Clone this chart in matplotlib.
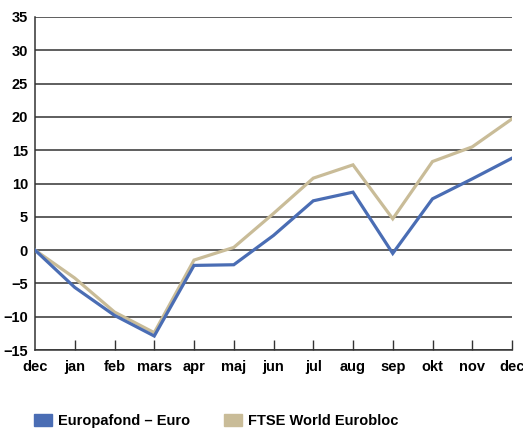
import matplotlib.pyplot as plt
from matplotlib.patches import Patch

months = ['dec', 'jan', 'feb', 'mars', 'apr', 'maj', 'jun', 'jul', 'aug', 'sep', 'okt', 'nov', 'dec']
europafond = [0, -5.6, -9.8, -12.9, -2.3, -2.2, 2.2, 7.4, 8.7, -0.5, 7.7, 10.7, 13.8]
ftse = [0, -4.2, -9.3, -12.4, -1.5, 0.4, 5.5, 10.8, 12.8, 4.7, 13.3, 15.5, 19.7]

blue = '#4a6db4'
beige = '#c9bc98'

plt.rcParams['font.family'] = 'Liberation Sans'
plt.rcParams['font.weight'] = 'bold'

fig = plt.figure(figsize=(5.23, 4.32), dpi=100)
ax = fig.add_axes([35 / 523, 1 - 350 / 432, 477 / 523, 333 / 432])

x = list(range(len(months)))
ax.plot(x, ftse, color=beige, lw=2.3, solid_joinstyle='miter', zorder=3)
ax.plot(x, europafond, color=blue, lw=2.3, solid_joinstyle='miter', zorder=4)

ax.set_xlim(0, len(months) - 1)
ax.set_ylim(-15, 35)
ax.set_yticks(range(-15, 36, 5))
ax.set_xticks(x)
ax.set_xticklabels(months, fontsize=10.5, fontweight='bold')
for lbl in ax.get_yticklabels():
    lbl.set_fontsize(10.5)
    lbl.set_fontweight('bold')

ax.yaxis.grid(True, color='#333333', lw=1.1)
ax.set_axisbelow(True)
ax.tick_params(axis='y', length=0, pad=5)
ax.tick_params(axis='x', direction='in', length=7, width=1, color='#333333', pad=7)
ax.xaxis.get_major_ticks()[0].tick1line.set_visible(False)

for s in ['top', 'right']:
    ax.spines[s].set_visible(False)
ax.spines['left'].set_color('#333333')
ax.spines['bottom'].set_color('#333333')
ax.spines['left'].set_linewidth(1.1)
ax.spines['bottom'].set_linewidth(1.1)

handles = [Patch(color=blue, label='Europafond – Euro'),
           Patch(color=beige, label='FTSE World Eurobloc')]
fig.legend(handles=handles, loc='center left', bbox_to_anchor=(34 / 523, 1 - 421 / 432),
           ncol=2, frameon=False, prop={'size': 10.5, 'weight': 'bold'},
           handlelength=1.25, handleheight=0.95, handletextpad=0.4,
           columnspacing=2.3, borderpad=0, borderaxespad=0)

fig.savefig('out.png', dpi=100)
